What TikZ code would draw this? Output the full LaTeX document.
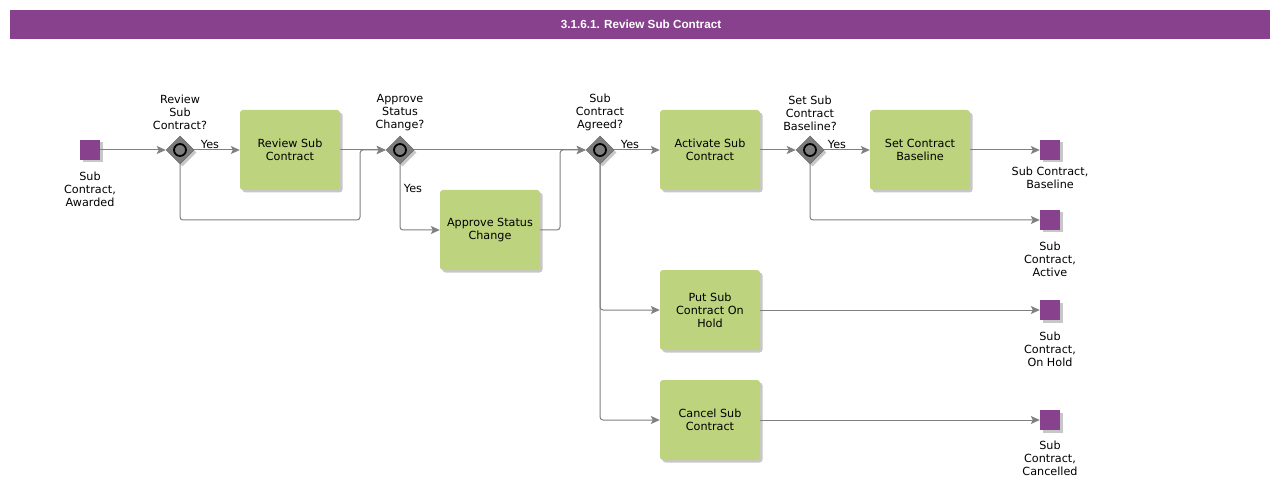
\documentclass[tikz,border=0pt]{standalone}
\usepackage{fontspec}
\setmainfont{DejaVu Sans}
\newfontfamily\titlefont{Liberation Sans}
\usetikzlibrary{shapes.geometric,arrows.meta,shadows}
\definecolor{bpurple}{RGB}{136,65,140}
\definecolor{tgreen}{RGB}{189,211,125}
\definecolor{lgray}{RGB}{128,128,128}
\definecolor{gwgray}{RGB}{125,125,125}
\begin{document}
\begin{tikzpicture}[x=1pt,y=-1pt,
  txt/.style={font=\fontsize{11.2}{13}\selectfont, align=center, inner sep=0pt, text=black},
  shad/.style={drop shadow={shadow xshift=2.5pt, shadow yshift=-2.5pt, fill=black, opacity=0.22}},
  task/.style={txt, fill=tgreen, rounded corners=3pt, minimum width=100pt, minimum height=80pt, shad},
  gateway/.style={diamond, aspect=1, fill=gwgray, draw=gwgray!80!black, line width=0.5pt, minimum width=28pt, minimum height=28pt, inner sep=0pt, shad},
  evt/.style={rectangle, fill=bpurple, minimum width=20pt, minimum height=20pt, inner sep=0pt, shad},
  flow/.style={draw=lgray, line width=1pt, rounded corners=3pt, -{Stealth[length=9pt,width=8pt,inset=2pt]}},
  yes/.style={txt}
]
\useasboundingbox (0,0) rectangle (1280,481);
\fill[bpurple] (10,10) rectangle (1270,39);
\node[inner sep=0pt, text=white, font=\titlefont\bfseries\fontsize{11.7}{13}\selectfont] (title) at (641,24.5) {3.1.6.1. Review Sub Contract};

% events
\node[evt] (start) at (90,150) {};
\node[txt] (startl) at (90,189) {Sub\\Contract,\\Awarded};
\node[evt] (eBase) at (1050,150) {};
\node[txt] (eBasel) at (1050,177.5) {Sub Contract,\\Baseline};
\node[evt] (eAct) at (1050,220) {};
\node[txt] (eActl) at (1050,259) {Sub\\Contract,\\Active};
\node[evt] (eHold) at (1050,310) {};
\node[txt] (eHoldl) at (1050,349) {Sub\\Contract,\\On Hold};
\node[evt] (eCanc) at (1050,420) {};
\node[txt] (eCancl) at (1050,458) {Sub\\Contract,\\Cancelled};

% gateways
\node[gateway] (g1) at (180,150) {};
\node[txt] (g1l) at (180,112) {Review\\Sub\\Contract?};
\node[gateway] (g2) at (400,150) {};
\node[txt] (g2l) at (400,113) {Approve\\Status\\Change?};
\node[gateway] (g3) at (600,150) {};
\node[txt] (g3l) at (600,112) {Sub\\Contract\\Agreed?};
\node[gateway] (g4) at (810,150) {};
\node[txt] (g4l) at (810,113) {Set Sub\\Contract\\Baseline?};
\foreach \g in {g1,g2,g3,g4}{
  \draw[line width=1.8pt, fill=gwgray, draw=black] (\g) circle (6pt);
}

% tasks
\node[task] (t1) at (290,150) {Review Sub\\Contract};
\node[task] (t2) at (490,230) {Approve Status\\Change};
\node[task] (t3) at (710,150) {Activate Sub\\Contract};
\node[task] (t4) at (920,150) {Set Contract\\Baseline};
\node[task] (t5) at (710,310) {Put Sub\\Contract On\\Hold};
\node[task] (t6) at (710,420) {Cancel Sub\\Contract};

% junction coordinates
\coordinate (j1a) at (180,220);
\coordinate (j1b) at (360,220);
\coordinate (j1c) at (360,150);
\coordinate (j2a) at (400,230);
\coordinate (j3a) at (560,230);
\coordinate (j3b) at (560,150);
\coordinate (j4a) at (600,310);
\coordinate (j4b) at (600,420);
\coordinate (j5a) at (810,220);

% flows
\draw[flow] (start) -- (g1);
\draw[flow] (g1) -- (t1);
\node[yes] (y1) at (210,144) {Yes};
\draw[flow] (t1) -- (g2);
\draw[flow] (g1.south) -- (j1a) -- (j1b) -- (j1c) -- (g2.west);
\draw[flow] (g2) -- (g3);
\draw[flow] (g2.south) -- (j2a) -- (t2.west);
\node[yes] (y2) at (413,188) {Yes};
\draw[flow] (t2.east) -- (j3a) -- (j3b) -- (g3.west);
\draw[flow] (g3) -- (t3);
\node[yes] (y3) at (630,144) {Yes};
\draw[flow] (g3.south) -- (j4a) -- (t5.west);
\draw[flow] (g3.south) -- (j4b) -- (t6.west);
\draw[flow] (t3) -- (g4);
\draw[flow] (g4) -- (t4);
\node[yes] (y4) at (837,144) {Yes};
\draw[flow] (g4.south) -- (j5a) -- (eAct.west);
\draw[flow] (t4) -- (eBase);
\draw[flow] (t5) -- (eHold);
\draw[flow] (t6) -- (eCanc);
\end{tikzpicture}
\end{document}
